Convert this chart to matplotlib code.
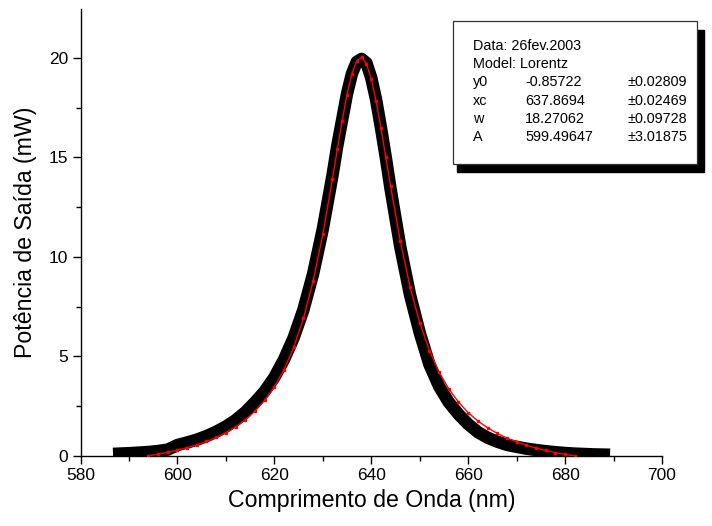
import matplotlib
matplotlib.use('Agg')
import matplotlib.pyplot as plt
from matplotlib.patches import Rectangle

plt.rcParams['font.family'] = ['Liberation Sans', 'DejaVu Sans']

# measured spectrum (nm, mW)
wl = [588, 590, 592, 594, 596, 598, 600, 602, 604, 606, 608, 610, 612, 614,
      616, 618, 620, 622, 624, 626, 628, 630, 632, 633, 634, 635, 636, 637,
      638, 639, 640, 641, 642, 643, 644, 646, 648, 650, 652, 654, 656, 658,
      660, 662, 664, 666, 668, 670, 672, 674, 676, 678, 680, 682, 684, 686,
      688]
power = [0.12, 0.14, 0.17, 0.20, 0.25, 0.32, 0.55, 0.68, 0.82, 1.00, 1.22,
         1.48, 1.80, 2.20, 2.70, 3.25, 3.95, 4.85, 5.95, 7.35, 9.15, 11.4,
         14.1, 15.6, 16.9, 18.2, 19.2, 19.8, 19.95, 19.75, 19.0, 17.9, 16.5,
         15.0, 13.4, 10.5, 8.1, 6.2, 4.6, 3.5, 2.7, 2.1, 1.6, 1.2, 0.92,
         0.72, 0.56, 0.46, 0.37, 0.30, 0.24, 0.19, 0.15, 0.12, 0.10, 0.08,
         0.07]

# Lorentz fit curve
fit_wl = [594, 596, 598, 600, 602, 604, 606, 608, 610, 612, 614, 616, 618,
          620, 622, 624, 626, 628, 630, 632, 633, 634, 635, 636, 637, 638,
          639, 640, 641, 642, 643, 644, 646, 648, 650, 652, 654, 656, 658,
          660, 662, 664, 666, 668, 670, 672, 674, 676, 678, 680, 682]
fit_power = [0.01, 0.09, 0.19, 0.29, 0.42, 0.56, 0.73, 0.93, 1.17, 1.46,
             1.81, 2.25, 2.79, 3.47, 4.34, 5.46, 6.91, 8.78, 11.13, 13.93,
             15.41, 16.85, 18.16, 19.19, 19.85, 20.03, 19.72, 18.96, 17.84,
             16.49, 15.02, 13.55, 10.80, 8.51, 6.70, 5.30, 4.22, 3.37, 2.71,
             2.18, 1.76, 1.42, 1.14, 0.90, 0.71, 0.54, 0.40, 0.28, 0.17,
             0.08, 0.00]

info = ["Data: 26fev.2003", "Model: Lorentz"]
par_names = ["y0", "xc", "w", "A"]
par_values = ["-0.85722", "637.8694", "18.27062", "599.49647"]
par_errors = ["\u00b10.02809", "\u00b10.02469", "\u00b10.09728", "\u00b13.01875"]

W, H = 712, 526
fig = plt.figure(figsize=(W / 100, H / 100), dpi=100)
ax = fig.add_axes([80.5 / W, 1 - 456 / H, (662 - 80.5) / W, (456 - 9) / H])

ax.plot(wl, power, color='black', lw=9, solid_capstyle='projecting',
        solid_joinstyle='round', zorder=2)
ax.plot(fit_wl, fit_power, color='#ff0000', lw=1, marker='s', ms=2,
        zorder=3)

ax.set_xlim(580, 700)
ax.set_ylim(0, 22.46)
ax.set_xticks([580, 600, 620, 640, 660, 680, 700])
ax.set_xticks(range(590, 700, 20), minor=True)
ax.set_yticks([0, 5, 10, 15, 20])
ax.set_yticks([2.5, 7.5, 12.5, 17.5], minor=True)
ax.tick_params(which='major', direction='out', length=6, width=1,
               labelsize=12.5, pad=3)
ax.tick_params(which='minor', direction='out', length=3.5, width=1)
for s in ['top', 'right']:
    ax.spines[s].set_visible(False)
for s in ['left', 'bottom']:
    ax.spines[s].set_linewidth(1)
ax.set_xlabel("Comprimento de Onda (nm)", fontsize=16.7, labelpad=4)
ax.set_ylabel("Potência de Saída (mW)", fontsize=16.7, labelpad=8)

# parameter box with shadow (figure pixel coords)
def fx(px):
    return px / W

def fy(py):
    return 1 - py / H

shadow = Rectangle((fx(457), fy(172)), fx(704) - fx(457), fy(30) - fy(172),
                   transform=fig.transFigure, facecolor='black',
                   edgecolor='black', zorder=4)
box = Rectangle((fx(453), fy(164)), fx(697) - fx(453), fy(21) - fy(164),
                transform=fig.transFigure, facecolor='white',
                edgecolor='#333333', lw=0.9, zorder=5)
fig.patches.extend([shadow, box])

fs = 10.4
row_y = 46
for t in info:
    fig.text(fx(473), fy(row_y), t, fontsize=fs, va='center', zorder=6)
    row_y += 18.2
for n, v, e in zip(par_names, par_values, par_errors):
    fig.text(fx(473), fy(row_y), n, fontsize=fs, va='center', zorder=6)
    fig.text(fx(525), fy(row_y), v, fontsize=fs, va='center', zorder=6)
    fig.text(fx(627), fy(row_y), e, fontsize=fs, va='center', zorder=6)
    row_y += 18.2

fig.savefig('out.png', dpi=100)
